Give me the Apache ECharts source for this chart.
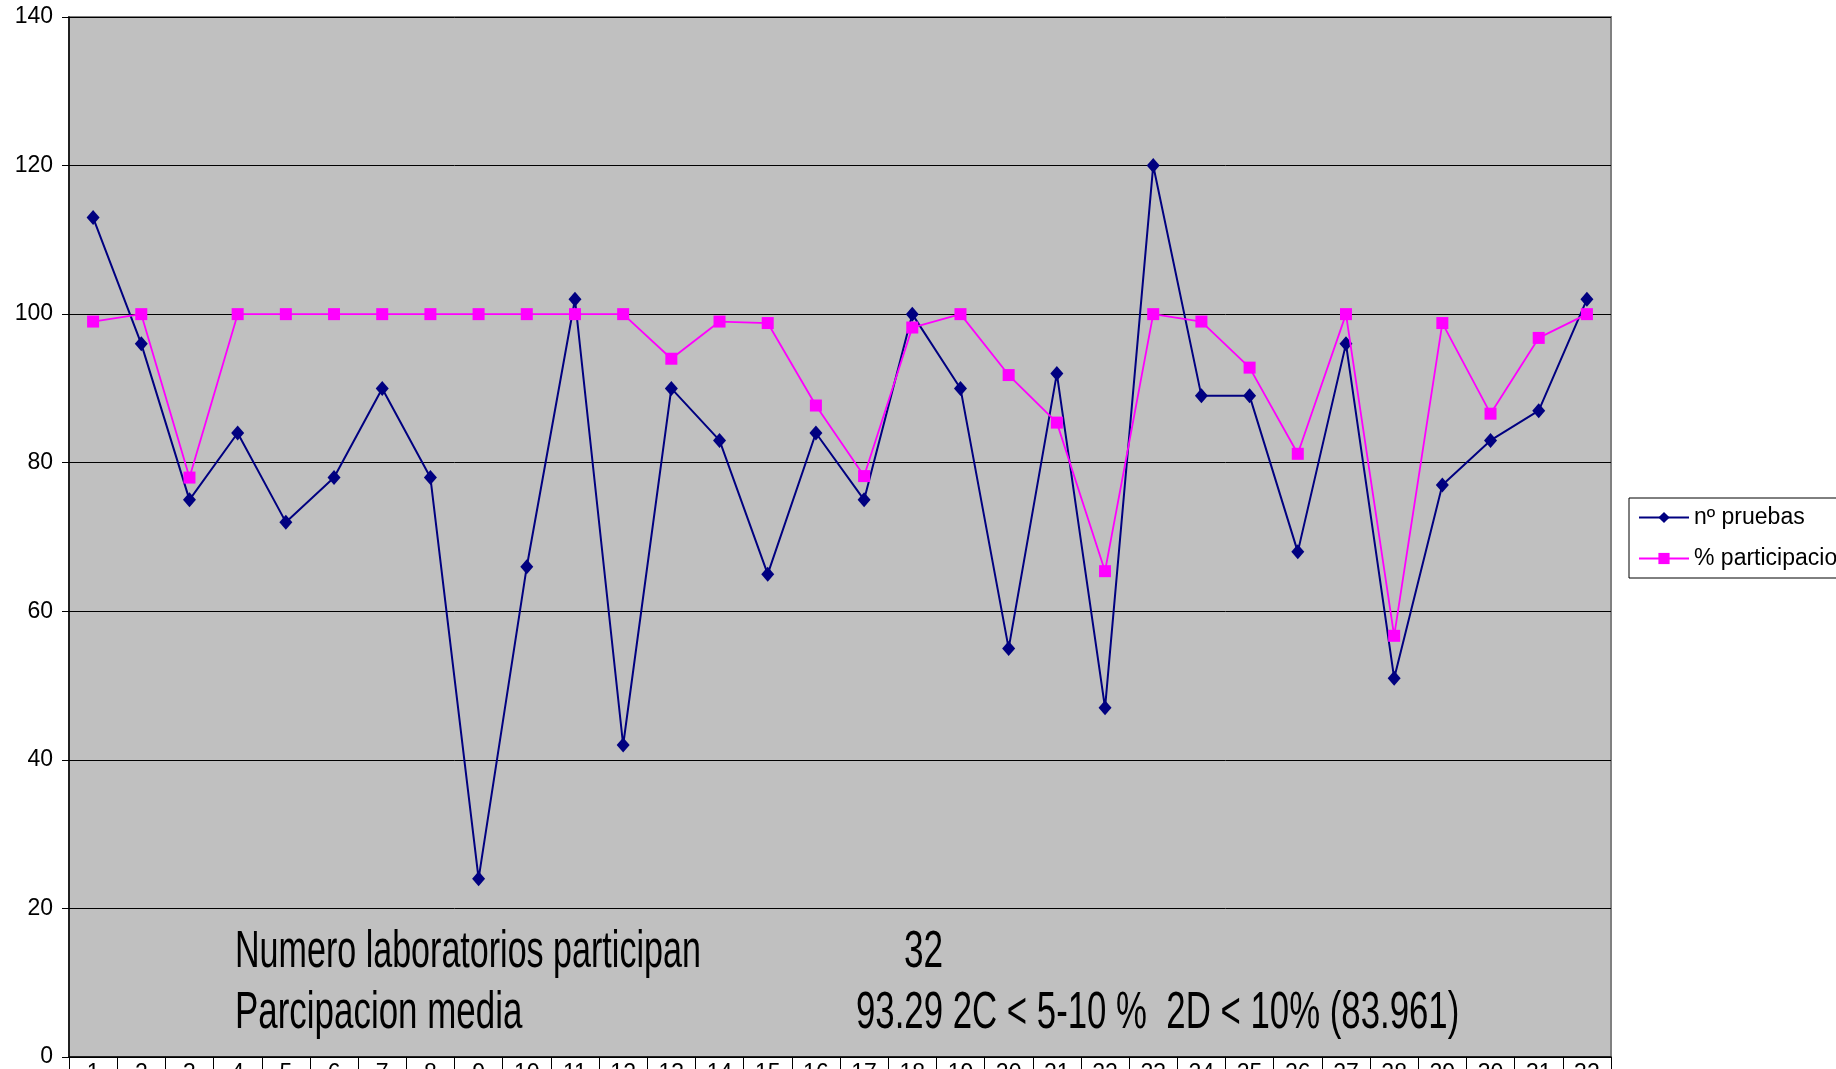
<!DOCTYPE html>
<html>
<head>
<meta charset="utf-8">
<script src="https://cdn.jsdelivr.net/npm/echarts@6/dist/echarts.min.js"></script>
<style>
html,body{margin:0;padding:0;background:#fff;}
#c{width:1836px;height:1069px;}
</style>
</head>
<body>
<div id="c"></div>
<script>
const categories = ['1','2','3','4','5','6','7','8','9','10','11','12','13','14','15','16','17','18','19','20','21','22','23','24','25','26','27','28','29','30','31','32'];
const pruebas = [113,96,75,84,72,78,90,78,24,66,102,42,90,83,65,84,75,100,90,55,92,47,120,89,89,68,96,51,77,83,87,102];
const participa = [99,100,78,100,100,100,100,100,100,100,100,100,94,99,98.8,87.7,78.2,98.2,100,91.8,85.4,65.4,100,99,92.8,81.2,100,56.7,98.8,86.6,96.8,100];
const yTicks = {min:0, max:140, interval:20};
const seriesNames = ['nº pruebas','% participacion'];
const noteLines = [
  ['Numero laboratorios participan', '32'],
  ['Parcipacion media', '93.29 2C < 5-10 %  2D < 10% (83.961)']
];

const chart = echarts.init(document.getElementById('c'));
const font = 'Liberation Sans, Arial, sans-serif';
const noteSize = 51;
const noteScale = [[0.668, 0.69], [0.685, 0.682]];
const noteY = [953, 1014];
const noteX1 = 235, noteX2 = [904, 856];
const graphics = [];
noteLines.forEach((ln, i) => {
  graphics.push({type:'text', x: noteX1, y: noteY[i], scaleX: noteScale[i][0], z: 10,
    style:{text: ln[0], fill:'#000', font: noteSize + 'px ' + font, verticalAlign:'middle', align:'left'}});
  graphics.push({type:'text', x: noteX2[i], y: noteY[i], scaleX: noteScale[i][1], z: 10,
    style:{text: ln[1], fill:'#000', font: noteSize + 'px ' + font, verticalAlign:'middle', align:'left'}});
});

chart.setOption({
  animation: false,
  backgroundColor: '#ffffff',
  textStyle: {fontFamily: font},
  grid: {left: 69, right: 225, top: 17, bottom: 12, show: true, backgroundColor: '#C0C0C0', borderColor: '#808080', borderWidth: 2,
         containLabel: false, outerBoundsMode: 'none'},
  legend: {
    orient: 'vertical', left: 1629, top: 498,
    data: seriesNames,
    backgroundColor: '#ffffff', borderColor: '#000', borderWidth: 1,
    padding: [8, 10, 8, 9],
    itemWidth: 50, itemHeight: 14, itemGap: 18,
    textStyle: {fontSize: 23, color: '#000', fontFamily: font, lineHeight: 21}
  },
  xAxis: {
    type: 'category', data: categories, boundaryGap: true,
    axisLine: {show: true, lineStyle: {color: '#000', width: 1.5}},
    axisTick: {show: true, length: 20, lineStyle: {color: '#000', width: 1}, interval: 0},
    axisLabel: {interval: 0, color: '#000', fontSize: 23, margin: 5, fontFamily: font},
    splitLine: {show: false}
  },
  yAxis: {
    type: 'value', min: yTicks.min, max: yTicks.max, interval: yTicks.interval,
    axisLine: {show: true, lineStyle: {color: '#000', width: 1.5}},
    axisTick: {show: true, length: 7, lineStyle: {color: '#000'}},
    axisLabel: {color: '#000', fontSize: 23, margin: 16, fontFamily: font},
    splitLine: {show: true, lineStyle: {color: '#000', width: 1}}
  },
  series: [
    {name: seriesNames[0], type: 'line', data: pruebas, symbol: 'diamond', symbolSize: [13, 15],
     itemStyle: {color: '#000080'}, lineStyle: {color: '#000080', width: 2}, z: 2},
    {name: seriesNames[1], type: 'line', data: participa, symbol: 'rect', symbolSize: 12,
     itemStyle: {color: '#FF00FF'}, lineStyle: {color: '#FF00FF', width: 1.8}, z: 3}
  ],
  graphic: graphics
});
</script>
</body>
</html>
